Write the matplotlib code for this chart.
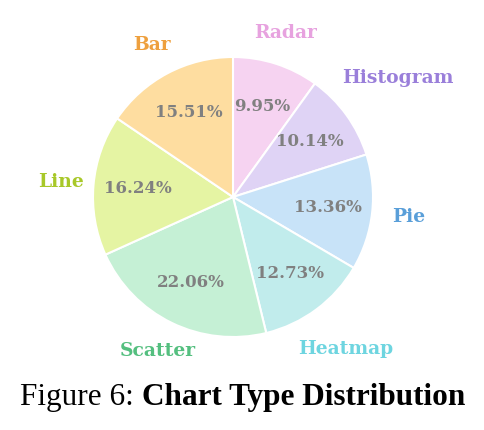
import numpy as np
import matplotlib.pyplot as plt

# data
categories = ['Radar', 'Histogram', 'Pie', 'Heatmap', 'Scatter', 'Line', 'Bar']
shares = [9.95, 10.14, 13.36, 12.73, 22.06, 16.24, 15.51]

face_colors = ['#F6D3F1', '#DFD3F5', '#C8E3F8', '#C1ECEC', '#C5F0D5', '#E5F4A3', '#FEDDA0']
label_colors = ['#E7A2DF', '#9A7FDA', '#5A9FD9', '#6ED5E0', '#54BF7F', '#A8C829', '#EEA03E']
label_dist = [1.23, 1.45, 1.26, 1.35, 1.22, 1.23, 1.23]

fig = plt.figure(figsize=(4.85, 4.3), dpi=100)
ax = fig.add_axes([93 / 485, 93 / 430, 280 / 485, 280 / 430])

wedges, texts, autotexts = ax.pie(
    shares, colors=face_colors, startangle=90, counterclock=False,
    autopct='%1.2f%%', pctdistance=0.68, labels=categories, labeldistance=1.23,
    wedgeprops=dict(edgecolor='white', linewidth=1.5),
    textprops=dict(family='DejaVu Serif', fontweight='bold'))

for w, t, c, d in zip(wedges, texts, label_colors, label_dist):
    ang = np.deg2rad((w.theta1 + w.theta2) / 2)
    t.set_position((d * np.cos(ang), d * np.sin(ang)))
    t.set_ha('center')
    t.set_va('center')
    t.set_color(c)
    t.set_fontsize(13.5)

for t in autotexts:
    t.set_color('#808080')
    t.set_fontsize(12)

ax.set_xlim(-1, 1)
ax.set_ylim(-1, 1)
ax.axis('off')

# caption: normal + bold part
cap_y = 1 - 398 / 430
t1 = fig.text(0.5, cap_y, 'Figure 6: ', fontsize=22.5, family='Liberation Serif', va='center', ha='left')
t2 = fig.text(0.5, cap_y, 'Chart Type Distribution', fontsize=22.5, family='Liberation Serif',
              fontweight='bold', va='center', ha='left')
fig.canvas.draw()
r = fig.canvas.get_renderer()
w1 = t1.get_window_extent(r).width
w2 = t2.get_window_extent(r).width
left = (485 * 0.5) - (w1 + w2) / 2
t1.set_x(left / 485)
t2.set_x((left + w1) / 485)

fig.savefig('out.png', dpi=100)
